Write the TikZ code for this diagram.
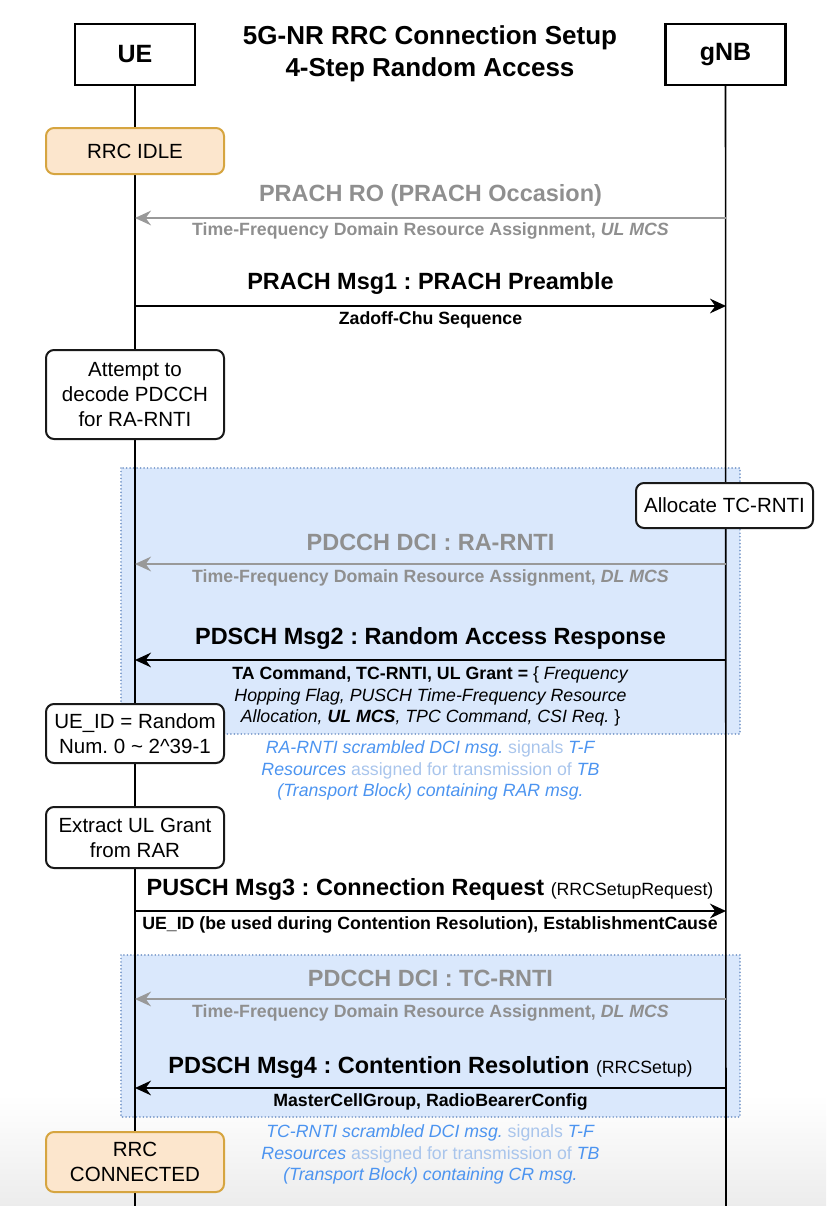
\documentclass[tikz,border=0pt]{standalone}
\usepackage{fontspec}
\setmainfont{Liberation Sans}
\usetikzlibrary{arrows.meta}
\frenchspacing

\definecolor{graytxt}{HTML}{8F8F8F}
\definecolor{grayline}{HTML}{999999}
\definecolor{regionfill}{HTML}{DAE8FC}
\definecolor{regionline}{HTML}{7B9BCB}
\definecolor{rrcfill}{HTML}{FCE6CD}
\definecolor{rrcline}{HTML}{D6A540}
\definecolor{bluetxt}{HTML}{4C94F0}
\definecolor{paleblue}{HTML}{A9C5EC}
\definecolor{fade}{HTML}{ECECEC}

\tikzstyle{actor}=[draw=black, line width=1.8pt, fill=white, minimum width=90pt, minimum height=45.75pt, inner sep=0pt, font=\fontsize{18.75}{22}\selectfont\bfseries]
\tikzstyle{heading}=[align=center, inner sep=0pt, font=\fontsize{19.5}{24}\selectfont\bfseries]
\tikzstyle{state}=[draw=black!90, line width=1.5pt, rounded corners=6pt, fill=white, minimum width=133.5pt, align=center, inner sep=1pt, font=\fontsize{15.4}{18.8}\selectfont]
\tikzstyle{rrc}=[state, draw=rrcline, fill=rrcfill]
\tikzstyle{msg}=[inner sep=0pt, font=\fontsize{17.6}{21}\selectfont\bfseries]
\tikzstyle{info}=[inner sep=0pt, align=center, font=\fontsize{13.3}{16.1}\selectfont]
\tikzstyle{note}=[info, text=bluetxt]
\tikzstyle{life}=[line width=1.2pt, black]
\tikzstyle{sig}=[line width=1.5pt, -{Stealth[length=12pt, width=11pt, inset=4pt]}]
\tikzstyle{ro}=[sig, grayline]
\tikzstyle{region}=[fill=regionfill, draw=regionline, line width=1.4pt, line cap=round, dash pattern=on 0.01pt off 2.6pt]

\begin{document}
\begin{tikzpicture}[x=0.75pt,y=-0.75pt]
\useasboundingbox (0,0) rectangle (826,1206);
\shade[top color=white, bottom color=fade] (0,1095) rectangle (826,1206);

% shaded steps
\path[region] (121,468) rectangle (740,734);
\path[region] (121,955) rectangle (740,1117);

% actors and lifelines
\node[actor](ue) at (135,54.5) {UE};
\node[actor](gnb) at (725.5,54.5) {gNB};
\node[heading](title) at (430,54) {5G-NR RRC Connection Setup\\4-Step Random Access};

\coordinate (ueend) at (135,1206);
\coordinate (gnbend) at (726,1206);
\draw[life] (ue) -- (ueend);
\draw[life] (gnb) -- (gnbend);

% UE side states
\node[rrc, minimum height=34.5pt](idle) at (135,151) {RRC IDLE};
\node[state, minimum height=66.75pt](decode) at (135,394.5) {Attempt to\\decode PDCCH\\for RA-RNTI};
\node[state, minimum height=44.25pt](ueid) at (135,733.5) {UE\_ID = Random\\Num. 0 \textasciitilde{} 2\textasciicircum{}39-1};
\node[state, minimum height=45.75pt](extract) at (135,837.5) {Extract UL Grant\\from RAR};
\node[rrc, minimum height=45pt](connected) at (135,1162) {RRC\\CONNECTED};
\node[state, minimum width=132.75pt, minimum height=33.75pt](alloc) at (724.5,505.5) {Allocate TC-RNTI};

% end points on the lifelines
\coordinate (u1) at (135,218); \coordinate (g1) at (726,218);
\coordinate (u2) at (135,306); \coordinate (g2) at (726,306);
\coordinate (u3) at (135,564); \coordinate (g3) at (726,564);
\coordinate (u4) at (135,660); \coordinate (g4) at (726,660);
\coordinate (u5) at (135,911); \coordinate (g5) at (726,911);
\coordinate (u6) at (135,999); \coordinate (g6) at (726,999);
\coordinate (u7) at (135,1088); \coordinate (g7) at (726,1088);

\draw[ro] (g1) -- (u1);
\draw[sig] (u2) -- (g2);
\draw[ro] (g3) -- (u3);
\draw[sig] (g4) -- (u4);
\draw[sig] (u5) -- (g5);
\draw[ro] (g6) -- (u6);
\draw[sig] (g7) -- (u7);

% labels
\node[msg, text=graytxt](l1) at (430.5,195) {PRACH RO (PRACH Occasion)};
\node[info, text=graytxt](s1) at (430.5,231) {\bfseries Time-Frequency Domain Resource Assignment, \textit{UL MCS}};
\node[msg](l2) at (430.5,283) {PRACH Msg1 : PRACH Preamble};
\node[info](s2) at (430.5,320) {\bfseries Zadoff-Chu Sequence};
\node[msg, text=graytxt](l3) at (430.5,542) {PDCCH DCI : RA-RNTI};
\node[info, text=graytxt](s3) at (430.5,578) {\bfseries Time-Frequency Domain Resource Assignment, \textit{DL MCS}};
\node[msg](l4) at (430.5,638) {PDSCH Msg2 : Random Access Response};
\node[info](s4) at (430.5,696.5) {\textbf{TA Command, TC-RNTI, UL Grant =} \{ \textit{Frequency}\\\textit{Hopping Flag, PUSCH Time-Frequency Resource}\\\textit{Allocation, \textbf{UL MCS}, TPC Command, CSI Req.} \}};
\node[note](n1) at (430.5,770.5) {\textit{RA-RNTI scrambled DCI msg.} \textcolor{paleblue}{signals} \textit{T-F}\\\textit{Resources} \textcolor{paleblue}{assigned for transmission of} \textit{TB}\\\textit{(Transport Block) containing RAR msg.}};
\node[msg](l5) at (430,889) {PUSCH Msg3 : Connection Request {\fontsize{13.3}{16}\selectfont\mdseries(RRCSetupRequest)}};
\node[info](s5) at (430,925) {\bfseries UE\_ID (be used during Contention Resolution), EstablishmentCause};
\node[msg, text=graytxt](l6) at (430.5,978) {PDCCH DCI : TC-RNTI};
\node[info, text=graytxt](s6) at (430.5,1013) {\bfseries Time-Frequency Domain Resource Assignment, \textit{DL MCS}};
\node[msg](l7) at (430.5,1067) {PDSCH Msg4 : Contention Resolution {\fontsize{13.3}{16}\selectfont\mdseries(RRCSetup)}};
\node[info](s7) at (430.5,1102) {\bfseries MasterCellGroup, RadioBearerConfig};
\node[note](n2) at (430.5,1154.5) {\textit{TC-RNTI scrambled DCI msg.} \textcolor{paleblue}{signals} \textit{T-F}\\\textit{Resources} \textcolor{paleblue}{assigned for transmission of} \textit{TB}\\\textit{(Transport Block) containing CR msg.}};
\end{tikzpicture}
\end{document}
